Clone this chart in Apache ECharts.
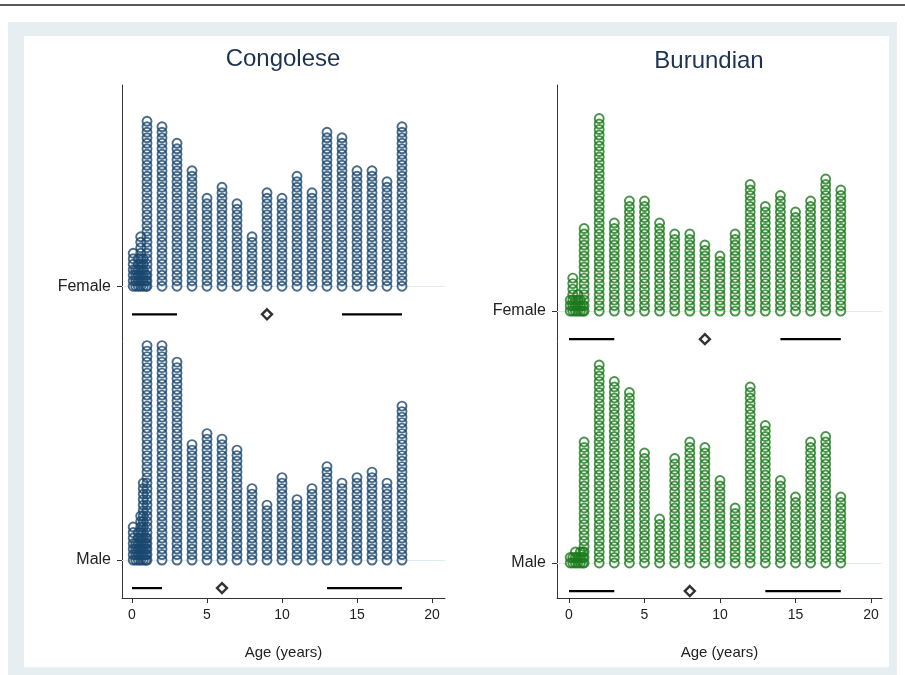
<!DOCTYPE html>
<html lang="en">
<head>
    <meta charset="UTF-8">
    <title>Age distribution</title>
    <script src="https://cdn.jsdelivr.net/npm/echarts@6/dist/echarts.min.js"></script>
    <style>
        body { margin: 0; background: #fff; }
    </style>
</head>
<body>
    <div id="main" style="width:905px;height:675px;"></div>

<script>

// ages of the whole-year columns, and the infant (under 1) ages
var ages = [1, 2, 3, 4, 5, 6, 7, 8, 9, 10, 11, 12, 13, 14, 15, 16, 17, 18];
var infantAges = [0.08, 0.25, 0.42, 0.58, 0.75, 0.92];
var tickLabels = [0, 5, 10, 15, 20];

// number of children (dots) per age
var congoFemaleInfant = [7, 4, 6, 10, 6, 3];
var congoFemale = [31, 30, 27, 22, 17, 19, 16, 10, 18, 17, 21, 18, 29, 28, 22, 22, 20, 30];
var congoMaleInfant = [7, 4, 6, 9, 15, 5];
var congoMale = [40, 40, 37, 22, 24, 23, 21, 14, 11, 16, 12, 14, 18, 15, 16, 17, 15, 29];

var burFemaleInfant = [3, 7, 3, 4, 3, 2];
var burFemale = [16, 36, 17, 21, 21, 17, 15, 15, 13, 11, 15, 24, 20, 22, 19, 21, 25, 23];
var burMaleInfant = [2, 2, 3, 2, 3, 3];
var burMale = [23, 37, 34, 32, 21, 9, 20, 23, 22, 16, 11, 33, 26, 16, 13, 23, 24, 13];

// summary: [min, lower end, median, upper start, max]
var congoFemaleSummary = [0, 3, 9, 14, 18];
var congoMaleSummary = [0, 2, 6, 13, 18];
var burFemaleSummary = [0, 3, 9, 14, 18];
var burMaleSummary = [0, 3, 8, 13, 18];

var navy = '#1a476f';
var green = '#1c7a1c';
var font = '"Liberation Sans", Arial, sans-serif';

// stack dots for one row
function dots(infant, counts, base) {
    var out = [];
    infantAges.forEach(function (a, i) {
        for (var k = 0; k < infant[i]; k++) out.push([a, base + k]);
    });
    ages.forEach(function (a, i) {
        for (var k = 0; k < counts[i]; k++) out.push([a, base + k]);
    });
    return out;
}

var series = [];

function addRow(idx, infant, counts, summary, base, color) {
    series.push({
        type: 'scatter',
        xAxisIndex: idx, yAxisIndex: idx,
        symbol: 'circle',
        symbolSize: 9,
        itemStyle: { color: 'rgba(0,0,0,0)', borderColor: color, borderWidth: 1.9 },
        data: dots(infant, counts, base),
        silent: true,
        markLine: {
            silent: true, symbol: 'none', z: 1,
            label: { show: false },
            lineStyle: { color: '#e2ebef', width: 1, type: 'solid' },
            data: [{ yAxis: base }]
        }
    });
    var ly = base - 5.1;
    [[summary[0], summary[1]], [summary[3], summary[4]]].forEach(function (seg) {
        series.push({
            type: 'line',
            xAxisIndex: idx, yAxisIndex: idx,
            symbol: 'none',
            lineStyle: { color: '#000', width: 2.2 },
            data: [[seg[0], ly], [seg[1], ly]],
            silent: true
        });
    });
    series.push({
        type: 'scatter',
        xAxisIndex: idx, yAxisIndex: idx,
        symbol: 'diamond',
        symbolSize: 10,
        itemStyle: { color: '#fff', borderColor: '#000', borderWidth: 2.4 },
        data: [[summary[2], ly]],
        silent: true
    });
}

var congoFemaleBase = 49.8;
var burFemaleBase = 45.8;

addRow(0, congoFemaleInfant, congoFemale, congoFemaleSummary, congoFemaleBase, navy);
addRow(0, congoMaleInfant, congoMale, congoMaleSummary, 0, navy);
addRow(1, burFemaleInfant, burFemale, burFemaleSummary, burFemaleBase, green);
addRow(1, burMaleInfant, burMale, burMaleSummary, 0, green);

function xAxis(idx, min, max) {
    return {
        type: 'value', gridIndex: idx, min: min, max: max,
        name: 'Age (years)', nameLocation: 'middle', nameGap: 47,
        nameTextStyle: { fontFamily: font, fontSize: 15, color: '#222' },
        axisLine: { onZero: false, lineStyle: { color: '#333', width: 1 } },
        axisTick: { show: true, length: 5, lineStyle: { color: '#333' }, customValues: tickLabels },
        axisLabel: { fontFamily: font, fontSize: 14, color: '#222', margin: 10, customValues: tickLabels },
        splitLine: { show: false }
    };
}

function yAxis(idx, min, max, femaleBase) {
    return {
        type: 'value', gridIndex: idx, min: min, max: max,
        axisLine: { show: true, onZero: false, lineStyle: { color: '#333', width: 1 } },
        axisTick: { show: true, length: 5, lineStyle: { color: '#333' }, customValues: [0, femaleBase] },
        axisLabel: {
            fontFamily: font, fontSize: 16, color: '#222', margin: 11,
            customValues: [0, femaleBase],
            formatter: function (v) { return v < 1 ? 'Male' : 'Female'; }
        },
        splitLine: { show: false }
    };
}

var myChart = echarts.init(document.getElementById('main'));

myChart.setOption({
    backgroundColor: '#fff',
    animation: false,
    graphic: [
        { type: 'line', shape: { x1: 0, y1: 5, x2: 905, y2: 5 }, style: { stroke: '#222', lineWidth: 1.5 }, silent: true },
        { type: 'rect', shape: { x: 8, y: 22, width: 889, height: 14 }, style: { fill: '#e6eef2' }, silent: true },
        { type: 'rect', shape: { x: 8, y: 22, width: 16, height: 653 }, style: { fill: '#e6eef2' }, silent: true },
        { type: 'rect', shape: { x: 889, y: 22, width: 8, height: 653 }, style: { fill: '#e6eef2' }, silent: true },
        { type: 'rect', shape: { x: 8, y: 667, width: 889, height: 8 }, style: { fill: '#e6eef2' }, silent: true }
    ],
    title: [
        { text: 'Congolese', left: 278, top: 42, textAlign: 'center',
          textStyle: { fontFamily: font, fontSize: 24, fontWeight: 'normal', color: '#1e3352' } },
        { text: 'Burundian', left: 704, top: 44, textAlign: 'center',
          textStyle: { fontFamily: font, fontSize: 24, fontWeight: 'normal', color: '#1e3352' } }
    ],
    grid: [
        { left: 122, top: 85, width: 323, height: 513 },
        { left: 557, top: 85, width: 325, height: 513 }
    ],
    xAxis: [
        xAxis(0, -0.667, 20.867),
        xAxis(1, -0.795, 20.728)
    ],
    yAxis: [
        yAxis(0, -6.9, 86.4, congoFemaleBase),
        yAxis(1, -6.36, 86.9, burFemaleBase)
    ],
    series: series
});

</script>
</body>
</html>
